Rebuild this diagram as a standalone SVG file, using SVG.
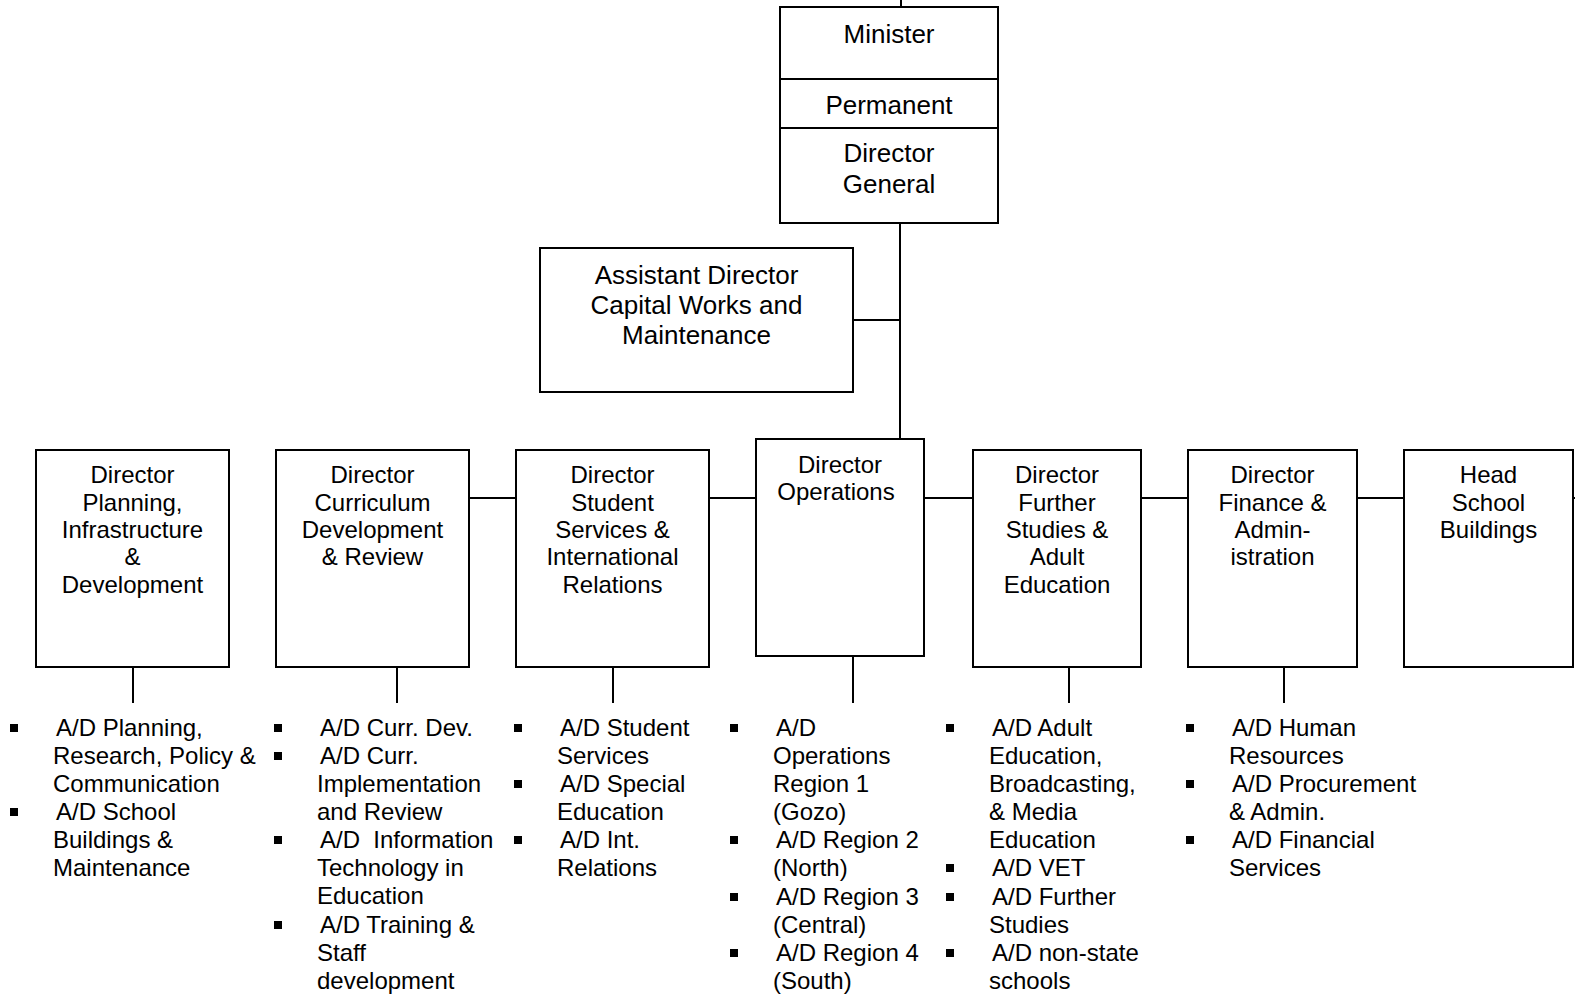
<svg xmlns="http://www.w3.org/2000/svg" width="1575" height="995" viewBox="0 0 1575 995">
<style>
.box{fill:#fff;stroke:#000;stroke-width:2}
.ln{stroke:#000;stroke-width:2;fill:none}
text{font-family:"Liberation Sans",Arial,sans-serif;fill:#000}
.t26{font-size:26px;text-anchor:middle}
.t24{font-size:24px;text-anchor:middle}
.b{font-size:24px;white-space:pre}
.bl{fill:#000}
</style>
<rect width="1575" height="995" fill="#fff"/>
<g id="connectors">
<line class="ln" x1="901" y1="0" x2="901" y2="7"/>
<line class="ln" x1="900" y1="223" x2="900" y2="439"/>
<line class="ln" x1="853" y1="320" x2="900" y2="320"/>
<line class="ln" x1="469" y1="498" x2="516" y2="498"/>
<line class="ln" x1="709" y1="498" x2="756" y2="498"/>
<line class="ln" x1="924" y1="498" x2="973" y2="498"/>
<line class="ln" x1="1141" y1="498" x2="1188" y2="498"/>
<line class="ln" x1="1357" y1="498" x2="1404" y2="498"/>
<line class="ln" x1="1573" y1="498" x2="1575" y2="498"/>
<line class="ln" x1="133" y1="667" x2="133" y2="703"/>
<line class="ln" x1="397" y1="667" x2="397" y2="703"/>
<line class="ln" x1="613" y1="667" x2="613" y2="703"/>
<line class="ln" x1="853" y1="656" x2="853" y2="703"/>
<line class="ln" x1="1069" y1="667" x2="1069" y2="703"/>
<line class="ln" x1="1284" y1="667" x2="1284" y2="703"/>
</g>
<g id="minister">
<rect class="box" x="780" y="7" width="218" height="72"/>
<text class="t26" x="889" y="43">Minister</text>
</g>
<g id="permanent-secretary">
<rect class="box" x="780" y="79" width="218" height="49"/>
<text class="t26" x="889" y="114">Permanent</text>
</g>
<g id="director-general">
<rect class="box" x="780" y="128" width="218" height="95"/>
<text class="t26" x="889" y="162">Director</text>
<text class="t26" x="889" y="193">General</text>
</g>
<g id="ad-capital-works">
<rect class="box" x="540" y="248" width="313" height="144"/>
<text class="t26" x="696.5" y="284">Assistant Director</text>
<text class="t26" x="696.5" y="314">Capital Works and</text>
<text class="t26" x="696.5" y="344">Maintenance</text>
</g>
<g id="dir-planning">
<rect class="box" x="36" y="450" width="193" height="217"/>
<text class="t24" x="132.5" y="483">Director</text>
<text class="t24" x="132.5" y="511">Planning,</text>
<text class="t24" x="132.5" y="538">Infrastructure</text>
<text class="t24" x="132.5" y="565">&amp;</text>
<text class="t24" x="132.5" y="593">Development</text>
</g>
<g id="dir-curriculum">
<rect class="box" x="276" y="450" width="193" height="217"/>
<text class="t24" x="372.5" y="483">Director</text>
<text class="t24" x="372.5" y="511">Curriculum</text>
<text class="t24" x="372.5" y="538">Development</text>
<text class="t24" x="372.5" y="565">&amp; Review</text>
</g>
<g id="dir-student">
<rect class="box" x="516" y="450" width="193" height="217"/>
<text class="t24" x="612.5" y="483">Director</text>
<text class="t24" x="612.5" y="511">Student</text>
<text class="t24" x="612.5" y="538">Services &amp;</text>
<text class="t24" x="612.5" y="565">International</text>
<text class="t24" x="612.5" y="593">Relations</text>
</g>
<g id="dir-operations">
<rect class="box" x="756" y="439" width="168" height="217"/>
<text class="t24" x="840" y="473">Director</text>
<text class="t24" x="836" y="500">Operations</text>
</g>
<g id="dir-further">
<rect class="box" x="973" y="450" width="168" height="217"/>
<text class="t24" x="1057" y="483">Director</text>
<text class="t24" x="1057" y="511">Further</text>
<text class="t24" x="1057" y="538">Studies &amp;</text>
<text class="t24" x="1057" y="565">Adult</text>
<text class="t24" x="1057" y="593">Education</text>
</g>
<g id="dir-finance">
<rect class="box" x="1188" y="450" width="169" height="217"/>
<text class="t24" x="1272.5" y="483">Director</text>
<text class="t24" x="1272.5" y="511">Finance &amp;</text>
<text class="t24" x="1272.5" y="538">Admin-</text>
<text class="t24" x="1272.5" y="565">istration</text>
</g>
<g id="head-school-buildings">
<rect class="box" x="1404" y="450" width="169" height="217"/>
<text class="t24" x="1488.5" y="483">Head</text>
<text class="t24" x="1488.5" y="511">School</text>
<text class="t24" x="1488.5" y="538">Buildings</text>
</g>
<g id="list-planning">
<rect class="bl" x="10" y="724" width="8" height="8"/>
<rect class="bl" x="10" y="808" width="8" height="8"/>
<text class="b" x="56" y="736">A/D Planning,</text>
<text class="b" x="53" y="764">Research, Policy &amp;</text>
<text class="b" x="53" y="792">Communication</text>
<text class="b" x="56" y="820">A/D School</text>
<text class="b" x="53" y="848">Buildings &amp;</text>
<text class="b" x="53" y="876">Maintenance</text>
</g>
<g id="list-curriculum">
<rect class="bl" x="274" y="724" width="8" height="8"/>
<rect class="bl" x="274" y="752" width="8" height="8"/>
<rect class="bl" x="274" y="836" width="8" height="8"/>
<rect class="bl" x="274" y="921" width="8" height="8"/>
<text class="b" x="320" y="736">A/D Curr. Dev.</text>
<text class="b" x="320" y="764">A/D Curr.</text>
<text class="b" x="317" y="792">Implementation</text>
<text class="b" x="317" y="820">and Review</text>
<text class="b" x="320" y="848">A/D  Information</text>
<text class="b" x="317" y="876">Technology in</text>
<text class="b" x="317" y="904">Education</text>
<text class="b" x="320" y="933">A/D Training &amp;</text>
<text class="b" x="317" y="961">Staff</text>
<text class="b" x="317" y="989">development</text>
</g>
<g id="list-student">
<rect class="bl" x="514" y="724" width="8" height="8"/>
<rect class="bl" x="514" y="780" width="8" height="8"/>
<rect class="bl" x="514" y="836" width="8" height="8"/>
<text class="b" x="560" y="736">A/D Student</text>
<text class="b" x="557" y="764">Services</text>
<text class="b" x="560" y="792">A/D Special</text>
<text class="b" x="557" y="820">Education</text>
<text class="b" x="560" y="848">A/D Int.</text>
<text class="b" x="557" y="876">Relations</text>
</g>
<g id="list-operations">
<rect class="bl" x="730" y="724" width="8" height="8"/>
<rect class="bl" x="730" y="836" width="8" height="8"/>
<rect class="bl" x="730" y="893" width="8" height="8"/>
<rect class="bl" x="730" y="949" width="8" height="8"/>
<text class="b" x="776" y="736">A/D</text>
<text class="b" x="773" y="764">Operations</text>
<text class="b" x="773" y="792">Region 1</text>
<text class="b" x="773" y="820">(Gozo)</text>
<text class="b" x="776" y="848">A/D Region 2</text>
<text class="b" x="773" y="876">(North)</text>
<text class="b" x="776" y="905">A/D Region 3</text>
<text class="b" x="773" y="933">(Central)</text>
<text class="b" x="776" y="961">A/D Region 4</text>
<text class="b" x="773" y="989">(South)</text>
</g>
<g id="list-further">
<rect class="bl" x="946" y="724" width="8" height="8"/>
<rect class="bl" x="946" y="864" width="8" height="8"/>
<rect class="bl" x="946" y="893" width="8" height="8"/>
<rect class="bl" x="946" y="949" width="8" height="8"/>
<text class="b" x="992" y="736">A/D Adult</text>
<text class="b" x="989" y="764">Education,</text>
<text class="b" x="989" y="792">Broadcasting,</text>
<text class="b" x="989" y="820">&amp; Media</text>
<text class="b" x="989" y="848">Education</text>
<text class="b" x="992" y="876">A/D VET</text>
<text class="b" x="992" y="905">A/D Further</text>
<text class="b" x="989" y="933">Studies</text>
<text class="b" x="992" y="961">A/D non-state</text>
<text class="b" x="989" y="989">schools</text>
</g>
<g id="list-finance">
<rect class="bl" x="1186" y="724" width="8" height="8"/>
<rect class="bl" x="1186" y="780" width="8" height="8"/>
<rect class="bl" x="1186" y="836" width="8" height="8"/>
<text class="b" x="1232" y="736">A/D Human</text>
<text class="b" x="1229" y="764">Resources</text>
<text class="b" x="1232" y="792">A/D Procurement</text>
<text class="b" x="1229" y="820">&amp; Admin.</text>
<text class="b" x="1232" y="848">A/D Financial</text>
<text class="b" x="1229" y="876">Services</text>
</g>
</svg>
